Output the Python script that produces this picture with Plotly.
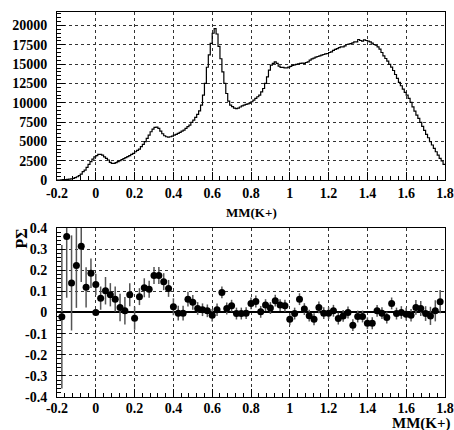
import numpy as np
import plotly.graph_objects as go

# ---------------- data ----------------
# Top panel: histogram of MM(K+), bins of width 0.01 starting at -0.2
BIN_START = -0.2
BIN_WIDTH = 0.01
COUNTS = [
    0, 0, 20, 40, 60, 80, 110, 150, 200, 300,                      # -0.20 .. -0.11
    420, 560, 775, 1080, 1290, 1640, 2030, 2370, 2700, 3000,       # -0.10 .. -0.01
    3150, 3320, 3320, 3230, 3000, 2800, 2590, 2280, 2150, 2150,    # 0.00 .. 0.09
    2240, 2370, 2500, 2630, 2760, 2890, 3020, 3150, 3320, 3450,    # 0.10 .. 0.19
    3660, 3840, 4010, 4310, 4610, 4960, 5390, 5820, 6250, 6590,    # 0.20 .. 0.29
    6810, 6850, 6680, 6340, 5990, 5730, 5600, 5560, 5600, 5690,    # 0.30 .. 0.39
    5820, 5900, 6030, 6160, 6340, 6470, 6680, 6900, 7110, 7460,    # 0.40 .. 0.49
    7760, 8100, 8490, 8960, 9700, 11000, 12500, 14600, 16200, 17700,  # 0.50 .. 0.59
    19000, 19600, 18900, 17300, 15700, 14000, 12500, 11200, 10200, 9700,  # 0.60 .. 0.69
    9500, 9300, 9250, 9300, 9450, 9600, 9700, 9800, 9850, 9950,    # 0.70 .. 0.79
    10130, 10340, 10560, 10780, 11000, 11420, 11850, 12500, 13360, 14220,  # 0.80 .. 0.89
    14870, 15090, 15300, 15090, 14740, 14570, 14570, 14520, 14520, 14610,  # 0.90 .. 0.99
    14700, 14830, 14910, 14960, 15040, 15090, 15130, 15090, 15210, 15300,  # 1.00 .. 1.09
    15520, 15690, 15780, 15900, 15990, 16080, 16160, 16250, 16330, 16380,  # 1.10 .. 1.19
    16510, 16590, 16770, 16900, 17020, 17150, 17240, 17240, 17370, 17540,  # 1.20 .. 1.29
    17580, 17670, 17760, 17890, 17890, 18190, 18060, 17970, 18150, 18060,  # 1.30 .. 1.39
    17970, 17890, 17710, 17540, 17460, 17240, 16940, 16510, 16080, 15730,  # 1.40 .. 1.49
    15390, 14960, 14610, 14180, 13660, 13150, 12630, 12200, 11770, 11340,  # 1.50 .. 1.59
    10990, 10560, 10040, 9480, 8920, 8400, 7970, 7460, 6940, 6420,  # 1.60 .. 1.69
    5900, 5470, 4960, 4530, 4090, 3660, 3230, 2800, 2460, 2030,    # 1.70 .. 1.79
]

# Bottom panel: P-Sigma asymmetry, bins of width 0.025 (centres from -0.175)
PS_FIRST_CENTER = -0.175
PS_STEP = 0.025
PS_VALUES = [
    -0.02, 0.36, 0.14, 0.222, 0.314, 0.119, 0.186, 0.133, 0.068, 0.103,
    0.084, 0.063, 0.024, 0.008, 0.084, -0.027, 0.075, 0.117, 0.11, 0.175,
    0.175, 0.146, 0.114, 0.027, -0.003, -0.003,
    0.063, 0.048, 0.019, 0.013, 0.008, -0.013, 0.013, 0.095, 0.019, 0.032,
    -0.005, -0.005, -0.003, 0.043, 0.052, 0.003, 0.035, 0.021, 0.056, 0.035,
    0.032, -0.032, -0.005, 0.063, 0.016, -0.015,
    -0.032, 0.024, -0.003, -0.003, 0.008, -0.029, -0.016, 0.0, -0.06, -0.019,
    -0.019, -0.051, -0.051, 0.008, -0.003, -0.024, 0.043, -0.005, 0.0, -0.008,
    -0.013, 0.024, 0.019, -0.005, -0.016, 0.008, 0.051,
]
PS_ERRORS = [
    0.34, 0.29, 0.225, 0.2, 0.17, 0.095, 0.07, 0.05, 0.055, 0.065,
    0.055, 0.06, 0.065, 0.065, 0.055, 0.055, 0.04, 0.045, 0.04, 0.04,
    0.04, 0.04, 0.04, 0.04, 0.035, 0.035,
    0.035, 0.035, 0.03, 0.03, 0.03, 0.03, 0.03, 0.028, 0.028, 0.028,
    0.028, 0.028, 0.028, 0.028, 0.028, 0.028, 0.028, 0.028, 0.028, 0.028,
    0.028, 0.028, 0.028, 0.028, 0.028, 0.028,
    0.028, 0.028, 0.028, 0.028, 0.028, 0.028, 0.028, 0.028, 0.028, 0.028,
    0.028, 0.028, 0.028, 0.028, 0.028, 0.028, 0.028, 0.028, 0.03, 0.03,
    0.03, 0.035, 0.035, 0.035, 0.043, 0.05, 0.055,
]
# lone marker sitting at the origin of the lower panel
ORIGIN_X = [0.0]
ORIGIN_Y = [0.0]

X_TICKS = [-0.2, 0, 0.2, 0.4, 0.6, 0.8, 1.0, 1.2, 1.4, 1.6, 1.8]
X_TICK_LABELS = ["-0.2", "0", "0.2", "0.4", "0.6", "0.8", "1", "1.2", "1.4", "1.6", "1.8"]
Y1_TICKS = [0, 2500, 5000, 7500, 10000, 12500, 15000, 17500, 20000]
Y1_TICK_LABELS = ["0", "2500", "5000", "7500", "10000", "12500", "15000", "17500", "20000"]
Y2_TICKS = [-0.4, -0.3, -0.2, -0.1, 0, 0.1, 0.2, 0.3, 0.4]
Y2_TICK_LABELS = ["-0.4", "-0.3", "-0.2", "-0.1", "0", "0.1", "0.2", "0.3", "0.4"]

X_TITLE = "MM(K+)"
Y2_TITLE = "PΣ"

# ---------------- figure ----------------
n = len(COUNTS)
edges = [BIN_START + BIN_WIDTH * i for i in range(n + 1)]
step_y = COUNTS + [COUNTS[-1]]
ps_x = [PS_FIRST_CENTER + PS_STEP * k for k in range(len(PS_VALUES))]

FONT = "Liberation Serif"

fig = go.Figure()
fig.add_trace(go.Scatter(
    x=edges, y=step_y, mode="lines",
    line=dict(color="black", width=1.2, shape="hv"),
    xaxis="x", yaxis="y", showlegend=False, hoverinfo="skip",
))
fig.add_trace(go.Scatter(
    x=ps_x, y=PS_VALUES, mode="markers",
    marker=dict(color="black", size=7),
    error_y=dict(type="data", array=PS_ERRORS, color="#555555", thickness=1.5, width=0),
    xaxis="x2", yaxis="y2", showlegend=False,
))
fig.add_trace(go.Scatter(
    x=ORIGIN_X, y=ORIGIN_Y, mode="markers",
    marker=dict(color="black", size=7),
    xaxis="x2", yaxis="y2", showlegend=False,
))

tickfont = dict(family=FONT, size=14, color="black", weight="bold")
common = dict(
    showline=True, linecolor="black", linewidth=1, mirror=True,
    ticks="inside", ticklen=8, tickcolor="black", tickwidth=1,
    showgrid=True, gridcolor="#333333", griddash="dot", gridwidth=1,
    zeroline=False, tickfont=tickfont, tickmode="array", automargin=False,
)

fig.update_layout(
    template="none",
    width=454, height=430,
    margin=dict(l=57, r=9, t=12, b=33, autoexpand=False),
    paper_bgcolor="white", plot_bgcolor="white",
    xaxis=dict(common, domain=[0, 1], range=[-0.2, 1.8], anchor="y",
               tickvals=X_TICKS, ticktext=X_TICK_LABELS,
               minor=dict(tick0=-0.2, dtick=0.04, ticks="inside", ticklen=4,
                          tickcolor="black", showgrid=False)),
    yaxis=dict(common, domain=[0.5636, 1.0], range=[0, 21750], anchor="x",
               tickvals=Y1_TICKS, ticktext=Y1_TICK_LABELS, ticklabelstandoff=6,
               minor=dict(tick0=0, dtick=500, ticks="inside", ticklen=4,
                          tickcolor="black", showgrid=False)),
    xaxis2=dict(common, domain=[0, 1], range=[-0.2, 1.8], anchor="y2",
                tickvals=X_TICKS, ticktext=X_TICK_LABELS, ticklabelstandoff=-2,
                minor=dict(tick0=-0.2, dtick=0.04, ticks="inside", ticklen=4,
                           tickcolor="black", showgrid=False)),
    yaxis2=dict(common, domain=[0.0, 0.439], range=[-0.4, 0.4], anchor="x2",
                tickvals=Y2_TICKS, ticktext=Y2_TICK_LABELS, ticklabelstandoff=6,
                zeroline=True, zerolinecolor="black", zerolinewidth=1.5,
                minor=dict(tick0=-0.4, dtick=0.02, ticks="inside", ticklen=4,
                           tickcolor="black", showgrid=False)),
    annotations=[
        dict(text=X_TITLE, xref="paper", yref="paper", x=0.5, y=0.478,
             xanchor="center", yanchor="middle", showarrow=False,
             font=dict(family=FONT, size=13, color="black", weight="bold")),
        dict(text=X_TITLE, xref="paper", yref="paper", x=1.0206, y=-0.0685,
             xanchor="right", yanchor="middle", showarrow=False,
             font=dict(family=FONT, size=15, color="black", weight="bold")),
        dict(text=Y2_TITLE, xref="paper", yref="paper", x=-0.0915, y=0.413,
             xanchor="center", yanchor="middle", showarrow=False, textangle=-90,
             font=dict(family=FONT, size=16, color="black", weight="bold")),
    ],
)

fig.write_html(
    "out.html",
    config={"displayModeBar": False},
    post_script="document.documentElement.style.overflow='hidden';"
                "document.body.style.overflow='hidden';"
                "document.body.style.margin='0';",
)
